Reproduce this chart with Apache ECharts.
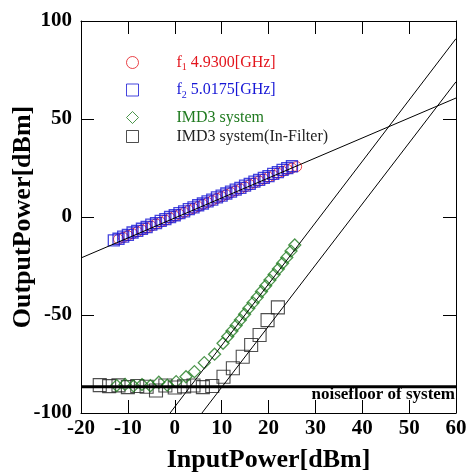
<!DOCTYPE html>
<html><head><meta charset="utf-8">
<script src="https://cdn.jsdelivr.net/npm/echarts@6/dist/echarts.min.js"></script>
<style>html,body{margin:0;padding:0;background:#fff}#c{width:466px;height:473px}</style>
</head><body><div id="c"></div>
<script>
// ---- data ----
const xTickInterval = 10;
const yTickInterval = 50;
const f1X = [-12,-11,-10,-9,-8,-7,-6,-5,-4,-3,-2,-1,0,1,2,3,4,5,6,7,8,9,10,11,12,13,14,15,16,17,18,19,20,21,22,23,24,25,26];
const f1Y = [-11.3,-10.4,-9.5,-8.5,-7.5,-6.6,-5.6,-4.6,-3.5,-2.6,-1.6,-0.5,0.5,1.4,2.4,3.5,4.4,5.4,6.5,7.4,8.4,9.5,10.4,11.4,12.5,13.4,14.4,15.4,16.5,17.4,18.4,19.4,20.4,21.3,22.4,23.3,24.3,25.0,25.7];
const f2X = [-13,-12,-11,-10,-9,-8,-7,-6,-5,-4,-3,-2,-1,0,1,2,3,4,5,6,7,8,9,10,11,12,13,14,15,16,17,18,19,20,21,22,23,24,25];
const f2Y = [-11.9,-11.1,-10.0,-9.1,-7.9,-7.1,-6.0,-5.1,-3.9,-3.1,-2.0,-1.1,0.0,0.9,2.0,2.9,4.0,4.9,6.0,6.9,8.0,8.9,10.0,10.9,12.0,12.9,14.0,14.9,16.0,16.9,18.0,18.9,20.0,20.9,22.0,22.9,24.0,24.9,25.9];
const imdX = [-12.4,-10.6,-8.8,-7.0,-5.2,-3.4,-1.6,0.3,2.4,4.2,6.3,8.5,10.3,11.3,12.2,13.1,14.0,14.9,15.8,16.7,17.6,18.5,19.4,20.3,21.2,22.1,23.0,23.9,24.8,25.6];
const imdY = [-86.0,-85.4,-86.2,-85.5,-86.1,-84.3,-85.8,-84.0,-81.5,-78.9,-74.3,-70.0,-64.4,-61.0,-58.2,-55.3,-52.5,-49.6,-46.6,-43.8,-41.0,-38.0,-35.1,-32.2,-29.4,-26.5,-23.6,-20.6,-17.4,-14.3];
const ifX = [-16,-14,-12,-10,-8,-6,-4,-2,0,2,4,6,8,10.4,12.4,14.5,16.3,18.1,19.8,22.0];
const ifY = [-85.8,-86.3,-85.9,-86.8,-86.2,-86.6,-88.5,-86.0,-87.0,-86.4,-86.0,-86.8,-86.2,-81.5,-77.2,-71.3,-65.3,-60.2,-52.6,-46.1];
const fundFitX = [-20, 60], fundFitY = [-20.9, 60.7];
const imdFitX = [-1.0, 60], imdFitY = [-100, 91];
const ifFitX = [5.8, 60], ifFitY = [-100, 69];
const noiseX = [-20, 60], noiseY = [-86.6, -86.6];
const names = ['f1 4.9300[GHz]', 'f2 5.0175[GHz]', 'IMD3 system', 'IMD3 system(In-Filter)'];

const zip = (a, b) => a.map((v, i) => [v, b[i]]);
const RED = '#e3141c', BLUE = '#1717d6', GREEN = '#1f7a1f', BLACK = '#222';
const SERIF = '"Liberation Serif", "Times New Roman", serif';

const chart = echarts.init(document.getElementById('c'), null, {renderer: 'canvas'});

const axisCommon = {
  axisLine: {show: true, onZero: false, lineStyle: {color: '#000', width: 1}},
  axisTick: {show: true, inside: true, length: 13, lineStyle: {color: '#000', width: 1}},
  splitLine: {show: false}
};
const labelStyle = {color: '#000', fontFamily: SERIF, fontWeight: 'bold', fontSize: 21};

function mkLegend(name, icon, color, top, fmt) {
  return {
    data: [{name: name, icon: icon, itemStyle: {color: 'rgba(0,0,0,0)', borderColor: color, borderWidth: 1}}],
    left: 121, top: top, itemWidth: 12, itemHeight: 12, selectedMode: false,
    formatter: () => fmt,
    textStyle: {rich: {
      p: {width: 33},
      t: {fontSize: 16, fontFamily: SERIF, color: color, lineHeight: 20},
      s: {fontSize: 10, fontFamily: SERIF, color: color, lineHeight: 1, verticalAlign: 'bottom'}
    }}
  };
}

const lineSeries = (xs, ys, w) => ({
  type: 'line', data: zip(xs, ys), showSymbol: false, symbol: 'none', silent: true,
  lineStyle: {color: '#000', width: w}, z: 5, clip: true, animation: false
});

chart.setOption({
  animation: false,
  grid: {left: 81, right: 10, top: 21, bottom: 60, containLabel: false, outerBoundsMode: 'none'},
  xAxis: [
    Object.assign({type: 'value', min: -20, max: 60, interval: xTickInterval, position: 'bottom',
      axisLabel: Object.assign({margin: 5}, labelStyle),
      name: 'InputPower[dBm]', nameLocation: 'middle', nameGap: 34, nameMoveOverlap: false,
      nameTextStyle: {color: '#000', fontFamily: SERIF, fontWeight: 'bold', fontSize: 26}}, axisCommon),
    Object.assign({type: 'value', min: -20, max: 60, interval: xTickInterval, position: 'top',
      axisLabel: {show: false}}, axisCommon)
  ],
  yAxis: [
    Object.assign({type: 'value', min: -100, max: 100, interval: yTickInterval, position: 'left',
      axisLabel: Object.assign({margin: 9}, labelStyle),
      name: 'OutputPower[dBm]', nameLocation: 'middle', nameGap: 45, nameMoveOverlap: false,
      nameTextStyle: {color: '#000', fontFamily: SERIF, fontWeight: 'bold', fontSize: 26}}, axisCommon),
    Object.assign({type: 'value', min: -100, max: 100, interval: yTickInterval, position: 'right',
      axisLabel: {show: false}}, axisCommon)
  ],
  legend: [
    mkLegend(names[0], 'circle', RED, 49.5, '{p| }{t|f}{s|1}{t| 4.9300[GHz]}'),
    mkLegend(names[1], 'rect', BLUE, 77, '{p| }{t|f}{s|2}{t| 5.0175[GHz]}'),
    mkLegend(names[2], 'diamond', GREEN, 104.5, '{p| }{t|IMD3 system}'),
    mkLegend(names[3], 'rect', BLACK, 123.5, '{p| }{t|IMD3 system(In-Filter)}')
  ],
  series: [
    {name: names[0], type: 'scatter', data: zip(f1X, f1Y), symbol: 'circle', symbolSize: 10,
      itemStyle: {color: 'rgba(0,0,0,0)', borderColor: RED, borderWidth: 1}, z: 2},
    {name: names[1], type: 'scatter', data: zip(f2X, f2Y), symbol: 'rect', symbolSize: 11,
      itemStyle: {color: 'rgba(0,0,0,0)', borderColor: BLUE, borderWidth: 1.3}, z: 3},
    {name: names[2], type: 'scatter', data: zip(imdX, imdY), symbol: 'diamond', symbolSize: 12,
      itemStyle: {color: 'rgba(0,0,0,0)', borderColor: GREEN, borderWidth: 1.3}, z: 3},
    {name: names[3], type: 'scatter', data: zip(ifX, ifY), symbol: 'rect', symbolSize: 13,
      itemStyle: {color: 'rgba(0,0,0,0)', borderColor: BLACK, borderWidth: 1.1}, z: 2},
    lineSeries(fundFitX, fundFitY, 1),
    lineSeries(imdFitX, imdFitY, 1),
    lineSeries(ifFitX, ifFitY, 1),
    lineSeries(noiseX, noiseY, 3)
  ]
});

const p = chart.convertToPixel({xAxisIndex: 0, yAxisIndex: 0}, [noiseX[1], noiseY[1]]);
chart.setOption({graphic: [{type: 'text', x: p[0] - 1, y: p[1] + 8, z: 10,
  style: {text: 'noisefloor of system', font: 'bold 17px "Liberation Serif"', textAlign: 'right', textVerticalAlign: 'middle', fill: '#000'}}]});
</script></body></html>
